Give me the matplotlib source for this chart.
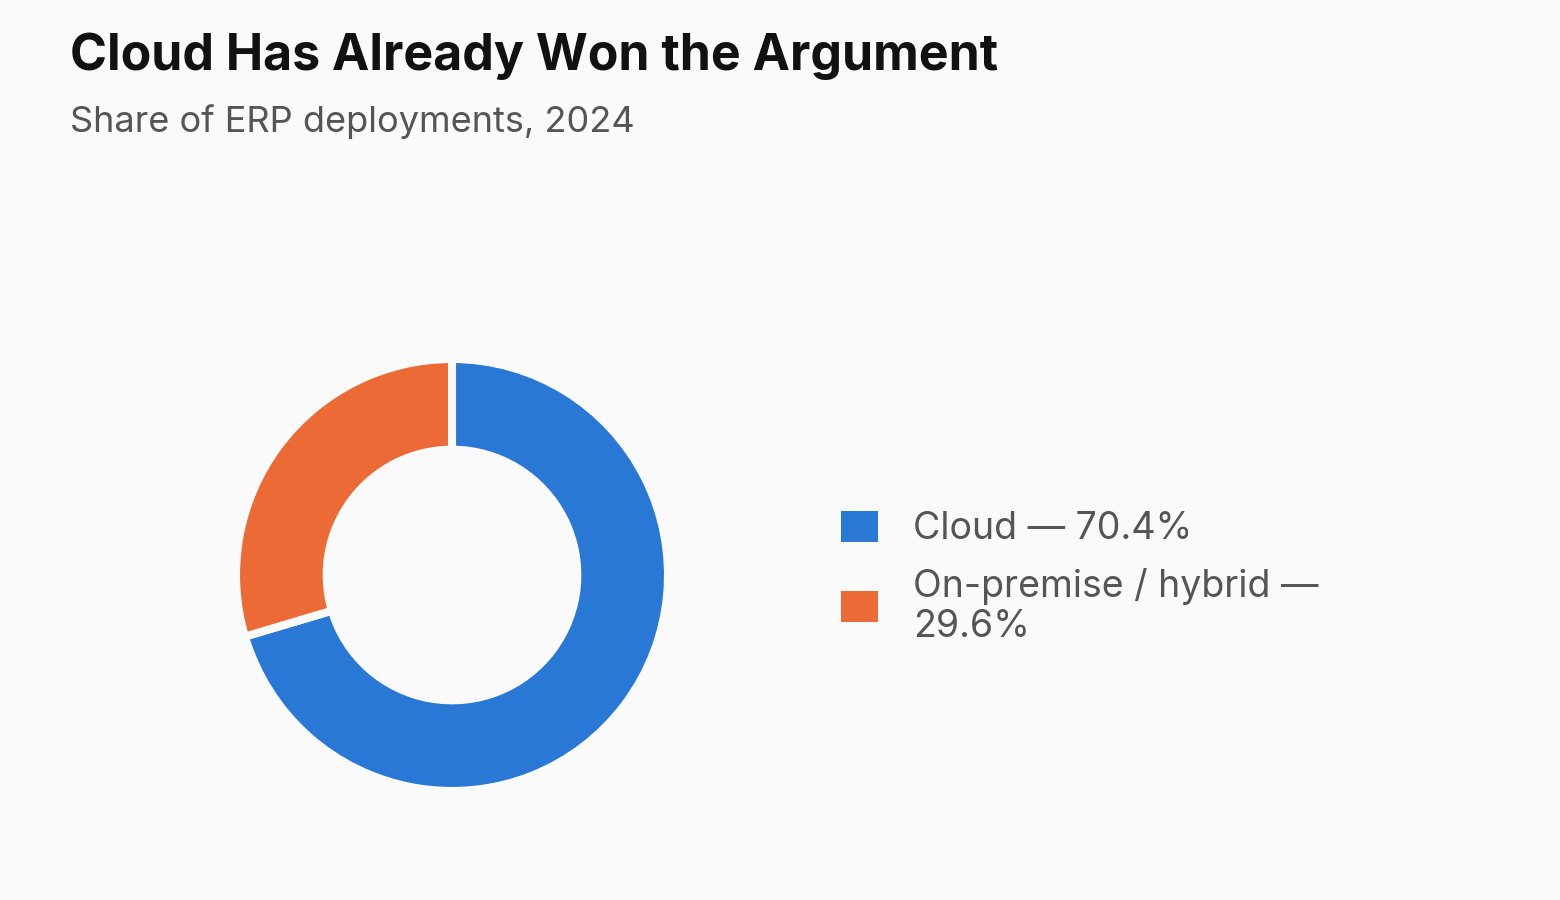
import matplotlib.pyplot as plt
from matplotlib.patches import Rectangle

plt.rcParams['font.family'] = ['Inter', 'DejaVu Sans']

labels = ['Cloud', 'On-premise / hybrid']
shares = [70.4, 29.6]
colors = ['#2A78D6', '#EB6A35']
bg = '#FAFAFA'

W, H = 1560, 900
fig = plt.figure(figsize=(15.6, 9), dpi=100, facecolor=bg)

# title block
fig.text(70 / W, 1 - 70 / H, 'Cloud Has Already Won the Argument',
         fontsize=36, fontweight='bold', color='#111111', va='baseline')
fig.text(70 / W, 1 - 132 / H, 'Share of ERP deployments, 2024',
         fontsize=26, color='#555555', va='baseline')

# donut
cx, cy, r = 452, 575, 212
ax = fig.add_axes([(cx - r) / W, (H - cy - r) / H, 2 * r / W, 2 * r / H])
ax.set_facecolor(bg)
ax.pie(shares, colors=colors, startangle=90, counterclock=False,
       radius=1 + 4 / r,
       wedgeprops=dict(width=0.39 + 8 / r, edgecolor=bg, linewidth=5.8))
ax.set_xlim(-1, 1)
ax.set_ylim(-1, 1)
ax.axis('off')

# legend
leg_text = ['Cloud \u2014 70.4%', 'On-premise / hybrid \u2014\n29.6%']
box_tops = [511, 591]
baselines = [539, 597]
for txt, c, top, base in zip(leg_text, colors, box_tops, baselines):
    fig.patches.append(Rectangle((841 / W, 1 - (top + 31) / H), 37 / W, 31 / H,
                                 transform=fig.transFigure, facecolor=c,
                                 edgecolor='none'))
    lines = txt.split('\n')
    for i, line in enumerate(lines):
        fig.text(913 / W, 1 - (base + 40 * i) / H, line, fontsize=27,
                 color='#555555', va='baseline')

fig.savefig('out.png', dpi=100, facecolor=bg)
